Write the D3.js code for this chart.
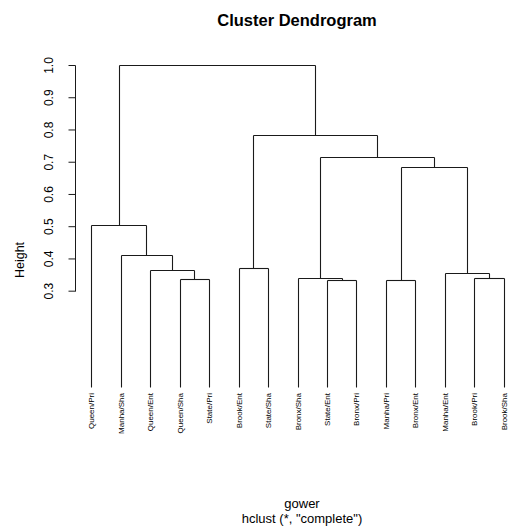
<!DOCTYPE html>
<html>
<head>
<meta charset="utf-8">
<script src="https://cdn.jsdelivr.net/npm/d3@7"></script>
<style>
  html, body { margin: 0; padding: 0; background: #fff; }
  svg { display: block; }
  text { font-family: "Liberation Sans", Arial, sans-serif; fill: #000; }
</style>
</head>
<body>
<svg id="chart" width="508" height="531"></svg>
<script>
// Leaf labels in dendrogram order
const leafLabels = ["Queen/Pri", "Manha/Sha", "Queen/Ent", "Queen/Sha", "State/Pri",
  "Brook/Ent", "State/Sha", "Bronx/Sha", "State/Ent", "Bronx/Pri",
  "Manha/Pri", "Bronx/Ent", "Manha/Ent", "Brook/Pri", "Brook/Sha"];

// Merges (R hclust convention: negative = leaf index (1-based), positive = earlier merge row)
const mergeLeft  = [-4, -3, -2, -1, -6, -9, -8, -11, -14, -13, 8, 7, 5, 4];
const mergeRight = [-5,  1,  2,  3, -7, -10, 6, -12, -15,  9, 10, 11, 12, 13];
const mergeHeights = [0.336, 0.364, 0.411, 0.504, 0.371, 0.334, 0.338, 0.333, 0.340, 0.354, 0.683, 0.716, 0.784, 1.0];

const yTicks = [0.3, 0.4, 0.5, 0.6, 0.7, 0.8, 0.9, 1.0];
const yTickLabels = ["0.3", "0.4", "0.5", "0.6", "0.7", "0.8", "0.9", "1.0"];

const titleText = "Cluster Dendrogram";
const yLabel = "Height";
const subLine1 = "gower";
const subLine2 = "hclust (*, \"complete\")";

const svg = d3.select("#chart");
const n = leafLabels.length;
const plotLeft = 74.5, plotRight = 520.5;

const x = d3.scaleLinear().domain([1 - 0.04 * (n - 1), n + 0.04 * (n - 1)]).range([plotLeft, plotRight]);
const y = d3.scaleLinear().domain([0, 1]).range([387.4, 65]);

// build tree nodes
function nodeOf(ref) {
  if (ref < 0) return { leaf: true, idx: -ref - 1, h: 0, x: x(-ref) };
  return built[ref - 1];
}
const built = [];
mergeLeft.forEach((l, i) => {
  const a = nodeOf(l), b = nodeOf(mergeRight[i]);
  built.push({ leaf: false, a, b, h: mergeHeights[i], x: (a.x + b.x) / 2 });
});

const g = svg.append("g").attr("fill", "none").attr("stroke", "#1a1a1a").attr("stroke-width", 1.1);
const snap = v => Math.round(v) + 0.5;
built.forEach(nd => {
  const yy = snap(y(nd.h));
  [nd.a, nd.b].forEach(ch => {
    g.append("line")
      .attr("x1", snap(ch.x)).attr("x2", snap(ch.x))
      .attr("y1", yy).attr("y2", snap(y(ch.h)));
  });
  g.append("line")
    .attr("x1", snap(nd.a.x)).attr("x2", snap(nd.b.x))
    .attr("y1", yy).attr("y2", yy);
});

// leaf labels
svg.append("g").selectAll("text").data(leafLabels).join("text")
  .attr("transform", (d, i) => `translate(${x(i + 1) + 3},393) rotate(-90)`)
  .attr("text-anchor", "end")
  .attr("font-size", "8px")
  .text(d => d);

// y axis
const axisG = svg.append("g").attr("transform", `translate(${snap(plotLeft)},0)`);
axisG.call(d3.axisLeft(y).tickValues(yTicks).tickSize(7).tickFormat((d, i) => yTickLabels[i]))
  .call(s => s.select(".domain").attr("d", `M0,${snap(y(0.3))}V${snap(y(1.0))}`).attr("stroke", "#1a1a1a"));
axisG.selectAll(".tick line").attr("stroke", "#1a1a1a");
axisG.selectAll(".tick text")
  .attr("font-family", "Liberation Sans, Arial, sans-serif")
  .attr("font-size", "12px")
  .attr("x", null).attr("dy", null)
  .attr("text-anchor", "middle")
  .attr("transform", "translate(-23,0) rotate(-90)");

// titles
svg.append("text").attr("x", 297).attr("y", 25.5).attr("text-anchor", "middle")
  .attr("font-size", "16.5px").attr("font-weight", "bold").text(titleText);
svg.append("text").attr("transform", "translate(23.5,260) rotate(-90)").attr("text-anchor", "middle")
  .attr("font-size", "12.5px").text(yLabel);
svg.append("text").attr("x", 302).attr("y", 508).attr("text-anchor", "middle")
  .attr("font-size", "13px").text(subLine1);
svg.append("text").attr("x", 302).attr("y", 523).attr("text-anchor", "middle")
  .attr("font-size", "13px").text(subLine2);
</script>
</body>
</html>
